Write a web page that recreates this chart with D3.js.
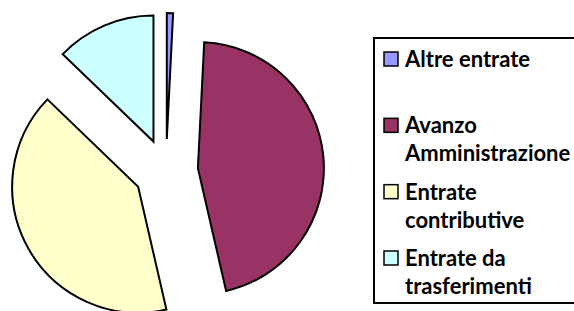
<!DOCTYPE html>
<html>
<head>
<meta charset="utf-8">
<script src="https://cdn.jsdelivr.net/npm/d3@7"></script>
<style>
  html, body { margin: 0; padding: 0; background: #fff; }
  svg { display: block; }
</style>
</head>
<body>
<svg id="chart"></svg>
<script>
// ------ Données ------
const categories = ["Altre entrate", "Avanzo Amministrazione", "Entrate contributive", "Entrate da trasferimenti"];
const values = [0.8, 45.6, 40.8, 12.8];   // quote in %
const colors = ["#9999FF", "#993366", "#FFFFCC", "#CCFFFF"];
// righe della legenda (testo a capo come nel riferimento)
const legendLines = [["Altre entrate"], ["Avanzo", "Amministrazione"], ["Entrate", "contributive"], ["Entrate da", "trasferimenti"]];

// taille du cadre
const width = 574, height = 311;
const svg = d3.select("#chart").attr("width", width).attr("height", height);

// ------ Torta esplosa ------
const cx = 166, cy = 171, radius = 126, explode = 32;

const pie = d3.pie().sort(null).value(d => d.value);
const arc = d3.arc().innerRadius(0).outerRadius(radius);

const data = categories.map((c, i) => ({ name: c, value: values[i], color: colors[i] }));

svg.append("g")
    .attr("transform", `translate(${cx},${cy})`)
    .selectAll("path")
    .data(pie(data))
    .enter()
    .append("path")
    .attr("d", arc)
    .attr("fill", d => d.data.color)
    .attr("stroke", "#000")
    .attr("stroke-width", 2)
    .attr("stroke-linejoin", "miter")
    .attr("transform", d => {
        const a = (d.startAngle + d.endAngle) / 2;
        return `translate(${explode * Math.sin(a)},${-explode * Math.cos(a)})`;
    });

// ------ Legenda ------
const legend = svg.append("g");
legend.append("rect")
    .attr("x", 374).attr("y", 38)
    .attr("width", 220).attr("height", 265)
    .attr("fill", "#fff")
    .attr("stroke", "#000")
    .attr("stroke-width", 2);

// posizione verticale di ogni voce (linea di base della prima riga)
const rowY = d3.scalePoint().domain(categories).range([67, 266]);

const items = legend.selectAll("g.item")
    .data(data)
    .enter()
    .append("g")
    .attr("class", "item")
    .attr("transform", d => `translate(0,${rowY(d.name)})`);

items.append("rect")
    .attr("x", 384).attr("y", -15)
    .attr("width", 14).attr("height", 14)
    .attr("fill", d => d.color)
    .attr("stroke", "#000")
    .attr("stroke-width", 1.5);

items.append("text")
    .attr("font-family", "Lato, 'Open Sans', sans-serif")
    .attr("font-weight", "bold")
    .attr("font-size", 22)
    .attr("fill", "#000")
    .each(function (d, i) {
        d3.select(this).selectAll("tspan")
            .data(legendLines[i])
            .enter()
            .append("tspan")
            .attr("x", 405)
            .attr("y", (l, j) => j * 28)
            .text(l => l);
    });
</script>
</body>
</html>
